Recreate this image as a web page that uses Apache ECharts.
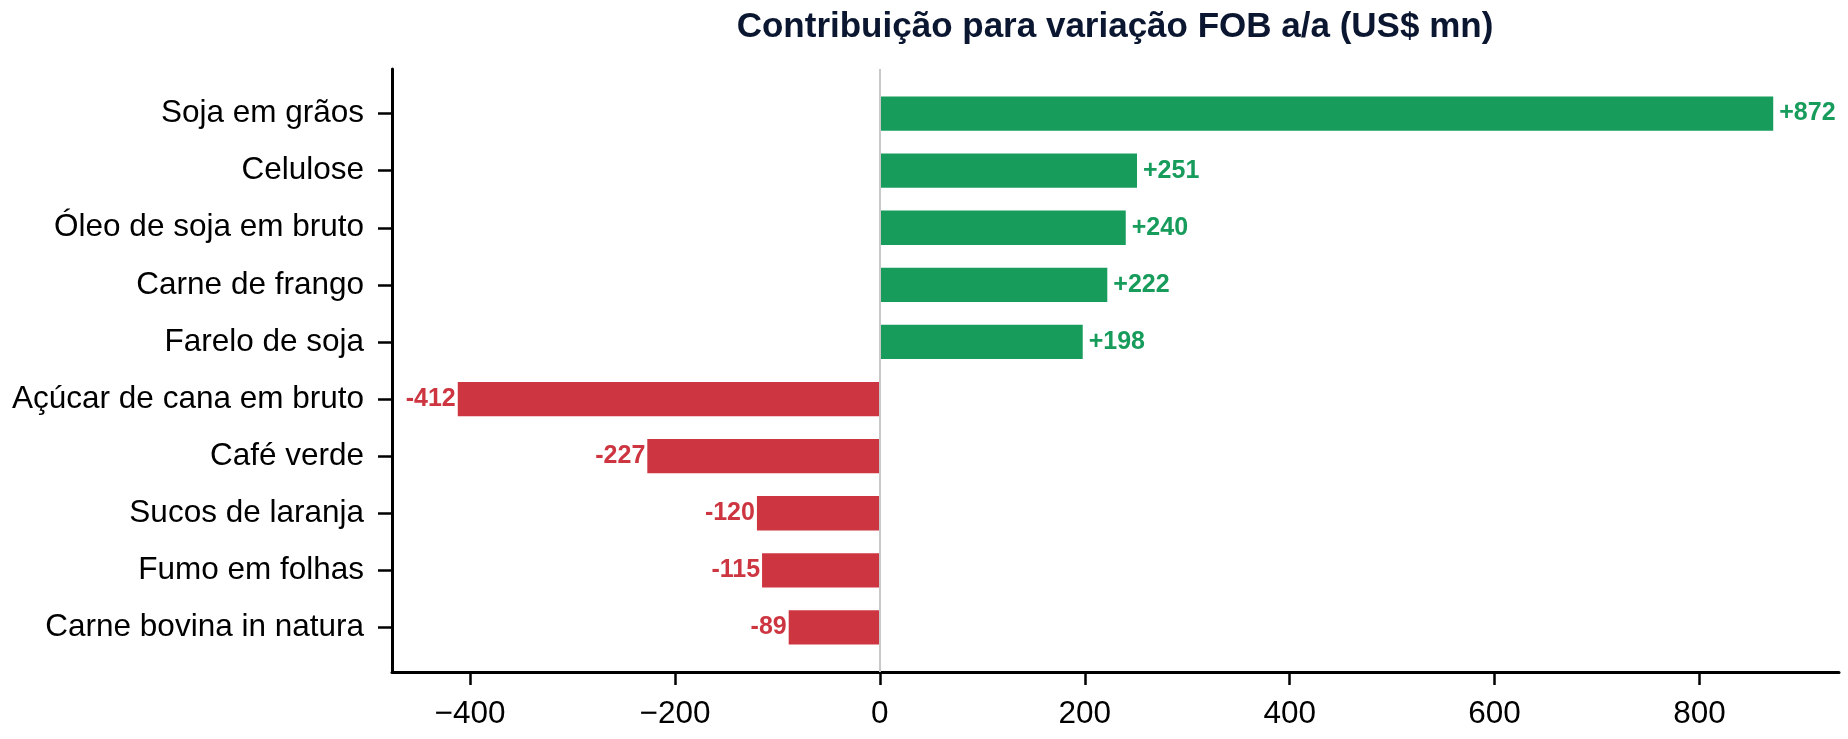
<!DOCTYPE html>
<html style="height:100%;">
<head>
  <meta charset="utf-8">
  <script src="https://cdn.jsdelivr.net/npm/echarts@6/dist/echarts.min.js"></script>
  <style>
    html, body { margin: 0; padding: 0; background: #fff; }
    #chart { width: 1848px; height: 739px; }
  </style>
</head>
<body>
  <div id="chart"></div>
  <script>
    // dados
    const produtos = ['Soja em grãos', 'Celulose', 'Óleo de soja em bruto', 'Carne de frango', 'Farelo de soja',
      'Açúcar de cana em bruto', 'Café verde', 'Sucos de laranja', 'Fumo em folhas', 'Carne bovina in natura'];
    const contribuicao = [872, 251, 240, 222, 198, -412, -227, -120, -115, -89];
    const xTicks = [-400, -200, 0, 200, 400, 600, 800];
    const xMin = -476.2, xMax = 936.2;

    const VERDE = '#179c5c';
    const VERMELHO = '#cd3641';
    const FONTE = "'Liberation Sans', Arial, sans-serif";

    const chart = echarts.init(document.getElementById('chart'));

    const barData = contribuicao.map(v => ({
      value: v,
      itemStyle: { color: v >= 0 ? VERDE : VERMELHO },
      label: {
        position: v >= 0 ? 'right' : 'left',
        distance: v >= 0 ? 6 : 2,
        color: v >= 0 ? VERDE : VERMELHO
      }
    }));

    const option = {
      backgroundColor: '#fff',
      animation: false,
      textStyle: { fontFamily: FONTE },
      title: {
        text: 'Contribuição para variação FOB a/a (US$ mn)',
        left: 1115,
        top: 10,
        padding: 0,
        textAlign: 'center',
        textStyle: { fontFamily: FONTE, fontSize: 35, fontWeight: 'bold', color: '#0b1730' }
      },
      grid: [
        // moldura dos eixos (com margens do matplotlib)
        { left: 392, right: 9, top: 69, bottom: 67 },
        // área das barras
        { left: 392, right: 9, top: 85, bottom: 83 }
      ],
      xAxis: [{
        gridIndex: 0,
        type: 'value',
        min: xMin,
        max: xMax,
        axisLine: { show: true, onZero: false, lineStyle: { color: '#000', width: 3 } },
        axisTick: { show: true, customValues: xTicks, length: 13, lineStyle: { color: '#000', width: 2.5 } },
        axisLabel: {
          customValues: xTicks,
          fontSize: 31.5,
          color: '#000',
          fontFamily: FONTE,
          margin: 26,
          formatter: v => v < 0 ? '\u2212' + Math.abs(v) : String(v)
        },
        splitLine: { show: false }
      }, {
        gridIndex: 1,
        type: 'value',
        min: xMin,
        max: xMax,
        show: false
      }],
      yAxis: [{
        gridIndex: 0,
        type: 'value',
        min: 0,
        max: 1,
        axisLine: { show: true, onZero: false, lineStyle: { color: '#000', width: 3 } },
        axisTick: { show: false },
        axisLabel: { show: false },
        splitLine: { show: false }
      }, {
        gridIndex: 1,
        type: 'category',
        data: produtos,
        inverse: true,
        axisLine: { show: false, onZero: false },
        axisTick: { show: true, alignWithLabel: true, length: 14, lineStyle: { color: '#000', width: 2.5 } },
        axisLabel: { fontSize: 31.5, color: '#000', fontFamily: FONTE, margin: 28, padding: [7, 0, 0, 0] },
        splitLine: { show: false }
      }],
      series: [{
        // linha do zero, altura total dos eixos
        type: 'scatter',
        xAxisIndex: 0,
        yAxisIndex: 0,
        data: [],
        z: 1,
        markLine: {
          silent: true,
          symbol: 'none',
          label: { show: false },
          lineStyle: { color: '#c8c8c8', width: 2, type: 'solid' },
          data: [{ xAxis: 0 }]
        }
      }, {
        type: 'bar',
        xAxisIndex: 1,
        yAxisIndex: 1,
        data: barData,
        barWidth: '60%',
        z: 3,
        label: {
          show: true,
          fontSize: 25,
          fontWeight: 'bold',
          fontFamily: FONTE,
          padding: [5, 0, 0, 0],
          formatter: p => p.value > 0 ? '+' + p.value : String(p.value)
        }
      }]
    };

    chart.setOption(option);
  </script>
</body>
</html>
